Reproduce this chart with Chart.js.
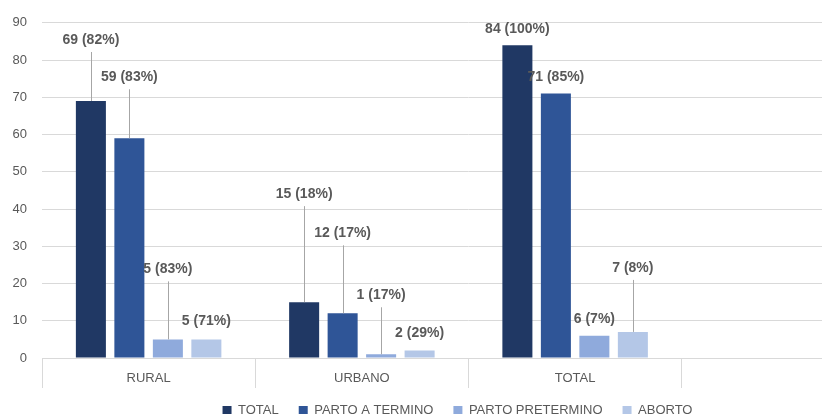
<!DOCTYPE html>
<html>
<head>
<meta charset="utf-8">
<script src="https://cdn.jsdelivr.net/npm/chart.js@4/dist/chart.umd.min.js"></script>
<style>
    html, body { margin: 0; padding: 0; background: #fff; }
    #marco { width: 822px; height: 414px; overflow: hidden; }
    #lienzo { position: relative; width: 915px; height: 427px; }
</style>
</head>
<body>
<div id="marco">
    <div id="lienzo"><canvas id="graficoPartos"></canvas></div>
</div>
<script>
// Datos por zona
const zonas = ['RURAL', 'URBANO', 'TOTAL', ''];
const series = ['TOTAL', 'PARTO A TERMINO', 'PARTO PRETERMINO', 'ABORTO'];
const valoresTotal = [69, 15, 84, null];
const valoresTermino = [59, 12, 71, null];
const valoresPretermino = [5, 1, 6, null];
const valoresAborto = [5, 2, 7, null];
const pctTotal = [82, 18, 100];
const pctTermino = [83, 17, 85];
const pctPretermino = [83, 17, 7];
const pctAborto = [71, 29, 8];
const ticksY = [0, 10, 20, 30, 40, 50, 60, 70, 80, 90];

const colores = ['#203864', '#2f5597', '#8faadc', '#b4c7e7'];
const gris = '#595959';

// Etiquetas con línea guía: altura (px) del texto sobre cada barra
const etiquetas = {
    id: 'etiquetas',
    afterLayout(chart, args, opts) {
        // la leyenda queda centrada en todo el ancho, no solo desde el eje
        const ley = chart.legend;
        if (ley) { ley.left += opts.desplazarLeyenda; ley.right += opts.desplazarLeyenda; }
    },
    afterDatasetsDraw(chart, args, opts) {
        const ctx = chart.ctx;
        ctx.save();
        ctx.font = 'bold 14px "Liberation Sans", Arial, sans-serif';
        ctx.fillStyle = gris;
        ctx.textAlign = 'center';
        ctx.textBaseline = 'middle';
        chart.data.datasets.forEach((ds, i) => {
            const meta = chart.getDatasetMeta(i);
            meta.data.forEach((bar, j) => {
                if (ds.data[j] == null) return;
                const alto = opts.altura[i][j];
                const y = bar.y - alto;
                ctx.fillText(ds.data[j] + ' (' + ds.pct[j] + '%)', bar.x, y);
                if (alto > 30) {
                    ctx.strokeStyle = '#a6a6a6';
                    ctx.lineWidth = 1;
                    ctx.beginPath();
                    ctx.moveTo(Math.round(bar.x) + 0.5, y + 12);
                    ctx.lineTo(Math.round(bar.x) + 0.5, bar.y);
                    ctx.stroke();
                }
            });
        });
        ctx.restore();
    }
};

document.addEventListener('DOMContentLoaded', () => {
    const ctxBarras = document.getElementById('graficoPartos');
    const valores = [valoresTotal, valoresTermino, valoresPretermino, valoresAborto];
    const pcts = [pctTotal, pctTermino, pctPretermino, pctAborto];

    new Chart(ctxBarras, {
        type: 'bar',
        data: {
            labels: zonas,
            datasets: series.map((nombre, i) => ({
                label: nombre,
                data: valores[i],
                pct: pcts[i],
                backgroundColor: colores[i],
                categoryPercentage: 0.722,
                barPercentage: 0.78
            }))
        },
        plugins: [etiquetas],
        options: {
            responsive: true,
            maintainAspectRatio: false,
            animation: false,
            layout: { padding: { top: 14, right: 20, left: 0, bottom: 0 } },
            scales: {
                x: {
                    grid: {
                        offset: true,
                        drawOnChartArea: false,
                        tickLength: 30,
                        color: '#d9d9d9'
                    },
                    border: { color: '#d9d9d9' },
                    ticks: {
                        padding: -17,
                        color: gris,
                        font: { family: '"Liberation Sans", Arial, sans-serif', size: 13 }
                    },
                    afterFit: (s) => { s.height = 26; }
                },
                y: {
                    min: 0,
                    max: 90,
                    afterBuildTicks: (s) => { s.ticks = ticksY.map(v => ({ value: v })); },
                    grid: { color: '#d9d9d9', drawTicks: false },
                    border: { display: false },
                    ticks: {
                        padding: 15,
                        color: gris,
                        font: { family: '"Liberation Sans", Arial, sans-serif', size: 13 }
                    },
                    afterFit: (s) => { s.width = 42; }
                }
            },
            plugins: {
                legend: {
                    position: 'bottom',
                    labels: {
                        boxWidth: 9,
                        boxHeight: 9,
                        padding: 20,
                        color: gris,
                        font: { family: '"Liberation Sans", Arial, sans-serif', size: 13 }
                    }
                },
                tooltip: { enabled: false },
                etiquetas: {
                    desplazarLeyenda: 10,
                    altura: [
                        [61, 108, 16],
                        [61, 80, 16],
                        [70, 59, 17],
                        [18, 17, 64]
                    ]
                }
            }
        }
    });
});
</script>
</body>
</html>
